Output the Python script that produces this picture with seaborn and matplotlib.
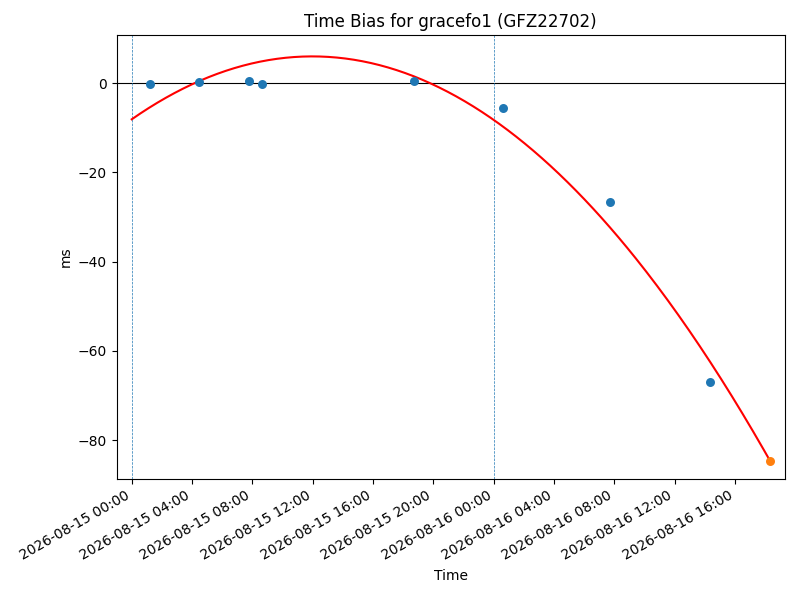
import numpy as np
import pandas as pd
import matplotlib
matplotlib.use("Agg")
import matplotlib.pyplot as plt
import matplotlib.dates as mdates
import seaborn as sns

# Observed time bias points
obs_times = ["2026-08-15 01:12", "2026-08-15 04:27", "2026-08-15 07:45",
             "2026-08-15 08:37", "2026-08-15 18:42", "2026-08-16 00:36",
             "2026-08-16 07:41", "2026-08-16 14:19"]
obs_ms = [-0.1, 0.2, 0.4, -0.1, 0.4, -5.6, -26.7, -67.0]

# Predicted point (orange)
pred_times = ["2026-08-16 18:20"]
pred_ms = [-84.7]

# Fit curve anchor values (quadratic through them)
fit_anchor_times = ["2026-08-15 00:00", "2026-08-15 12:00", "2026-08-16 18:20"]
fit_anchor_ms = [-8.1, 6.0, -84.7]

day_lines = ["2026-08-15 00:00", "2026-08-16 00:00"]
title = "Time Bias for gracefo1 (GFZ22702)"

t0 = pd.Timestamp("2026-08-15 00:00")
def hours(ts):
    return np.array([(pd.Timestamp(t) - t0).total_seconds() / 3600 for t in ts])

coef = np.polyfit(hours(fit_anchor_times), fit_anchor_ms, 2)
h_grid = np.linspace(hours(fit_anchor_times)[0], hours(fit_anchor_times)[-1], 300)
fit_df = pd.DataFrame({"time": t0 + pd.to_timedelta(h_grid, unit="h"),
                       "ms": np.polyval(coef, h_grid)})
obs_df = pd.DataFrame({"time": pd.to_datetime(obs_times), "ms": obs_ms})
pred_df = pd.DataFrame({"time": pd.to_datetime(pred_times), "ms": pred_ms})

fig, ax = plt.subplots(figsize=(8, 6), dpi=100)
ax.axhline(0, color="black", linewidth=0.8)
for d in day_lines:
    ax.axvline(pd.Timestamp(d), color="tab:blue", linestyle="--", linewidth=0.5)
sns.lineplot(data=fit_df, x="time", y="ms", color="red", linewidth=1.5, ax=ax)
sns.scatterplot(data=obs_df, x="time", y="ms", color="tab:blue", s=42,
                linewidth=0, ax=ax, zorder=3)
sns.scatterplot(data=pred_df, x="time", y="ms", color="tab:orange", s=42,
                linewidth=0, ax=ax, zorder=3)

ax.set_xlim(t0 - pd.Timedelta(hours=0.99), t0 + pd.Timedelta(hours=43.3))
ax.set_ylim(-88.7, 10.8)
ax.xaxis.set_major_locator(mdates.HourLocator(byhour=range(0, 24, 4)))
ax.xaxis.set_major_formatter(mdates.DateFormatter("%Y-%m-%d %H:%M"))
ax.set_title(title)
ax.set_xlabel("Time")
ax.set_ylabel("ms")
for lbl in ax.get_xticklabels():
    lbl.set_rotation(30)
    lbl.set_ha("right")
fig.subplots_adjust(left=0.146, right=0.981, top=0.9417, bottom=0.2017)
fig.savefig("out.png", dpi=100)
